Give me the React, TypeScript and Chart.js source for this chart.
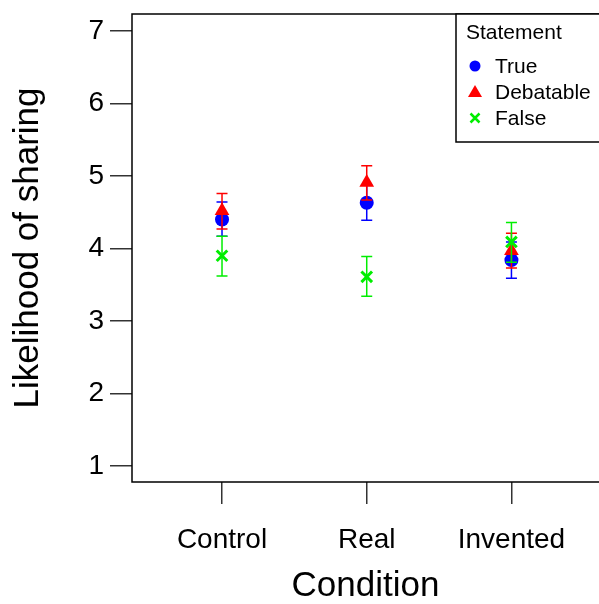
import React, { useEffect, useRef } from "react";
import { Chart, registerables } from "chart.js";

Chart.register(...registerables);

const conditions = ["Control", "Real", "Invented"];
const yTicks = [1, 2, 3, 4, 5, 6, 7];

const seriesNames = ["True", "Debatable", "False"];
const trueMean = [4.4, 4.63, 3.84];
const trueLow = [4.17, 4.39, 3.59];
const trueHigh = [4.64, 4.88, 4.09];
const debMean = [4.52, 4.91, 3.97];
const debLow = [4.27, 4.67, 3.73];
const debHigh = [4.76, 5.14, 4.21];
const falseMean = [3.9, 3.61, 4.09];
const falseLow = [3.62, 3.34, 3.81];
const falseHigh = [4.17, 3.89, 4.36];

const colors = ["#0000ff", "#ff0000", "#00ee00"];
const FONT = "'Liberation Sans', Arial, sans-serif";

export default function App() {
  const ref = useRef<HTMLCanvasElement | null>(null);

  useEffect(() => {
    const canvas = ref.current;
    if (!canvas) return;

    const means = [trueMean, debMean, falseMean];
    const lows = [trueLow, debLow, falseLow];
    const highs = [trueHigh, debHigh, falseHigh];

    const errorBars = {
      id: "errorBars",
      beforeDatasetDraw(chart: any, args: any) {
        const i = args.index;
        const ctx = chart.ctx;
        const xs = chart.scales.x;
        const ys = chart.scales.y;
        ctx.save();
        ctx.strokeStyle = colors[i];
        ctx.lineWidth = 1.5;
        for (let k = 0; k < conditions.length; k++) {
          const px = xs.getPixelForValue(k + 1);
          const y1 = ys.getPixelForValue(lows[i][k]);
          const y2 = ys.getPixelForValue(highs[i][k]);
          ctx.beginPath();
          ctx.moveTo(px, y1);
          ctx.lineTo(px, y2);
          ctx.moveTo(px - 5.5, y1);
          ctx.lineTo(px + 5.5, y1);
          ctx.moveTo(px - 5.5, y2);
          ctx.lineTo(px + 5.5, y2);
          ctx.stroke();
        }
        ctx.restore();
      },
    };

    const frameAndLegend = {
      id: "frameAndLegend",
      afterDraw(chart: any) {
        const ctx = chart.ctx;
        const a = chart.chartArea;
        ctx.save();
        ctx.strokeStyle = "#000";
        ctx.lineWidth = 1.5;
        ctx.beginPath();
        ctx.moveTo(chart.width + 2, a.top);
        ctx.lineTo(a.left, a.top);
        ctx.lineTo(a.left, a.bottom);
        ctx.lineTo(chart.width + 2, a.bottom);
        ctx.stroke();

        // legend box
        const lx = 456;
        const ly = a.top;
        const lh = 128;
        ctx.fillStyle = "#fff";
        ctx.fillRect(lx, ly, chart.width - lx + 5, lh);
        ctx.beginPath();
        ctx.moveTo(chart.width + 2, ly);
        ctx.lineTo(lx, ly);
        ctx.lineTo(lx, ly + lh);
        ctx.lineTo(chart.width + 2, ly + lh);
        ctx.stroke();

        ctx.fillStyle = "#000";
        ctx.textBaseline = "middle";
        ctx.textAlign = "left";
        ctx.font = `21px ${FONT}`;
        ctx.fillText("Statement", 466, 33);
        const rows = [66, 92, 118];
        for (let i = 0; i < seriesNames.length; i++) {
          const cy = rows[i];
          const cx = 475;
          ctx.fillStyle = colors[i];
          ctx.strokeStyle = colors[i];
          if (i === 0) {
            ctx.beginPath();
            ctx.arc(cx, cy, 5.5, 0, Math.PI * 2);
            ctx.fill();
          } else if (i === 1) {
            ctx.beginPath();
            ctx.moveTo(cx, cy - 7);
            ctx.lineTo(cx + 7, cy + 5);
            ctx.lineTo(cx - 7, cy + 5);
            ctx.closePath();
            ctx.fill();
          } else {
            ctx.lineWidth = 2.5;
            ctx.beginPath();
            ctx.moveTo(cx - 4.5, cy - 4.5);
            ctx.lineTo(cx + 4.5, cy + 4.5);
            ctx.moveTo(cx + 4.5, cy - 4.5);
            ctx.lineTo(cx - 4.5, cy + 4.5);
            ctx.stroke();
          }
          ctx.fillStyle = "#000";
          ctx.fillText(seriesNames[i], 495, cy + 1);
        }
        ctx.restore();
      },
    };

    const zeroPad = (s: any) => {
      s.paddingTop = 0;
      s.paddingBottom = 0;
      s.paddingLeft = 0;
      s.paddingRight = 0;
    };

    const pointStyles = ["circle", "triangle", "crossRot"];
    const radii = [7, 8.5, 7.5];
    const orders = [3, 2, 1];

    const chart = new Chart(canvas, {
      type: "scatter",
      data: {
        datasets: seriesNames.map((name, i) => ({
          label: name,
          data: means[i].map((v, k) => ({ x: k + 1, y: v })),
          pointStyle: pointStyles[i],
          pointRadius: radii[i],
          pointBackgroundColor: colors[i],
          pointBorderColor: colors[i],
          pointBorderWidth: i === 2 ? 3 : 0,
          order: orders[i],
        })),
      },
      options: {
        animation: false,
        responsive: false,
        maintainAspectRatio: false,
        devicePixelRatio: 1,
        layout: { autoPadding: false, padding: { top: 14, left: 0, right: 0, bottom: 0 } },
        plugins: {
          legend: { display: false },
          tooltip: { enabled: false },
          title: { display: false },
        },
        scales: {
          x: {
            type: "linear",
            min: 0.378,
            max: 3.605,
            afterBuildTicks: (s: any) => {
              s.ticks = conditions.map((_, k) => ({ value: k + 1 }));
            },
            afterFit: (s: any) => {
              s.height = 122;
              zeroPad(s);
            },
            ticks: {
              callback: (v: any) => conditions[Math.round(Number(v)) - 1] ?? "",
              font: { family: FONT, size: 28 },
              color: "#000",
              padding: 19,
              maxRotation: 0,
              autoSkip: false,
            },
            grid: {
              drawOnChartArea: false,
              drawTicks: true,
              tickLength: 22,
              color: "#333",
              lineWidth: 1.5,
            },
            border: { display: false },
            title: {
              display: true,
              text: "Condition",
              font: { family: FONT, size: 35, lineHeight: 1 },
              color: "#000",
              padding: { top: 0, bottom: 0 },
            },
          },
          y: {
            type: "linear",
            min: 0.78,
            max: 7.234,
            afterBuildTicks: (s: any) => {
              s.ticks = yTicks.map((v) => ({ value: v }));
            },
            afterFit: (s: any) => {
              s.width = 132;
              zeroPad(s);
            },
            ticks: {
              font: { family: FONT, size: 28 },
              color: "#000",
              padding: 6,
              callback: (v: any) => String(v),
            },
            grid: {
              drawOnChartArea: false,
              drawTicks: true,
              tickLength: 22,
              color: "#333",
              lineWidth: 1.5,
            },
            border: { display: false },
            title: {
              display: true,
              text: "Likelihood of sharing",
              font: { family: FONT, size: 35, lineHeight: 1 },
              color: "#000",
              padding: { top: 11, bottom: 0 },
            },
          },
        },
      },
      plugins: [errorBars, frameAndLegend],
    });

    return () => chart.destroy();
  }, []);

  return (
    <canvas
      ref={ref}
      width={599}
      height={604}
      style={{ position: "absolute", left: 0, top: 0, width: 599, height: 604, display: "block" }}
    />
  );
}
